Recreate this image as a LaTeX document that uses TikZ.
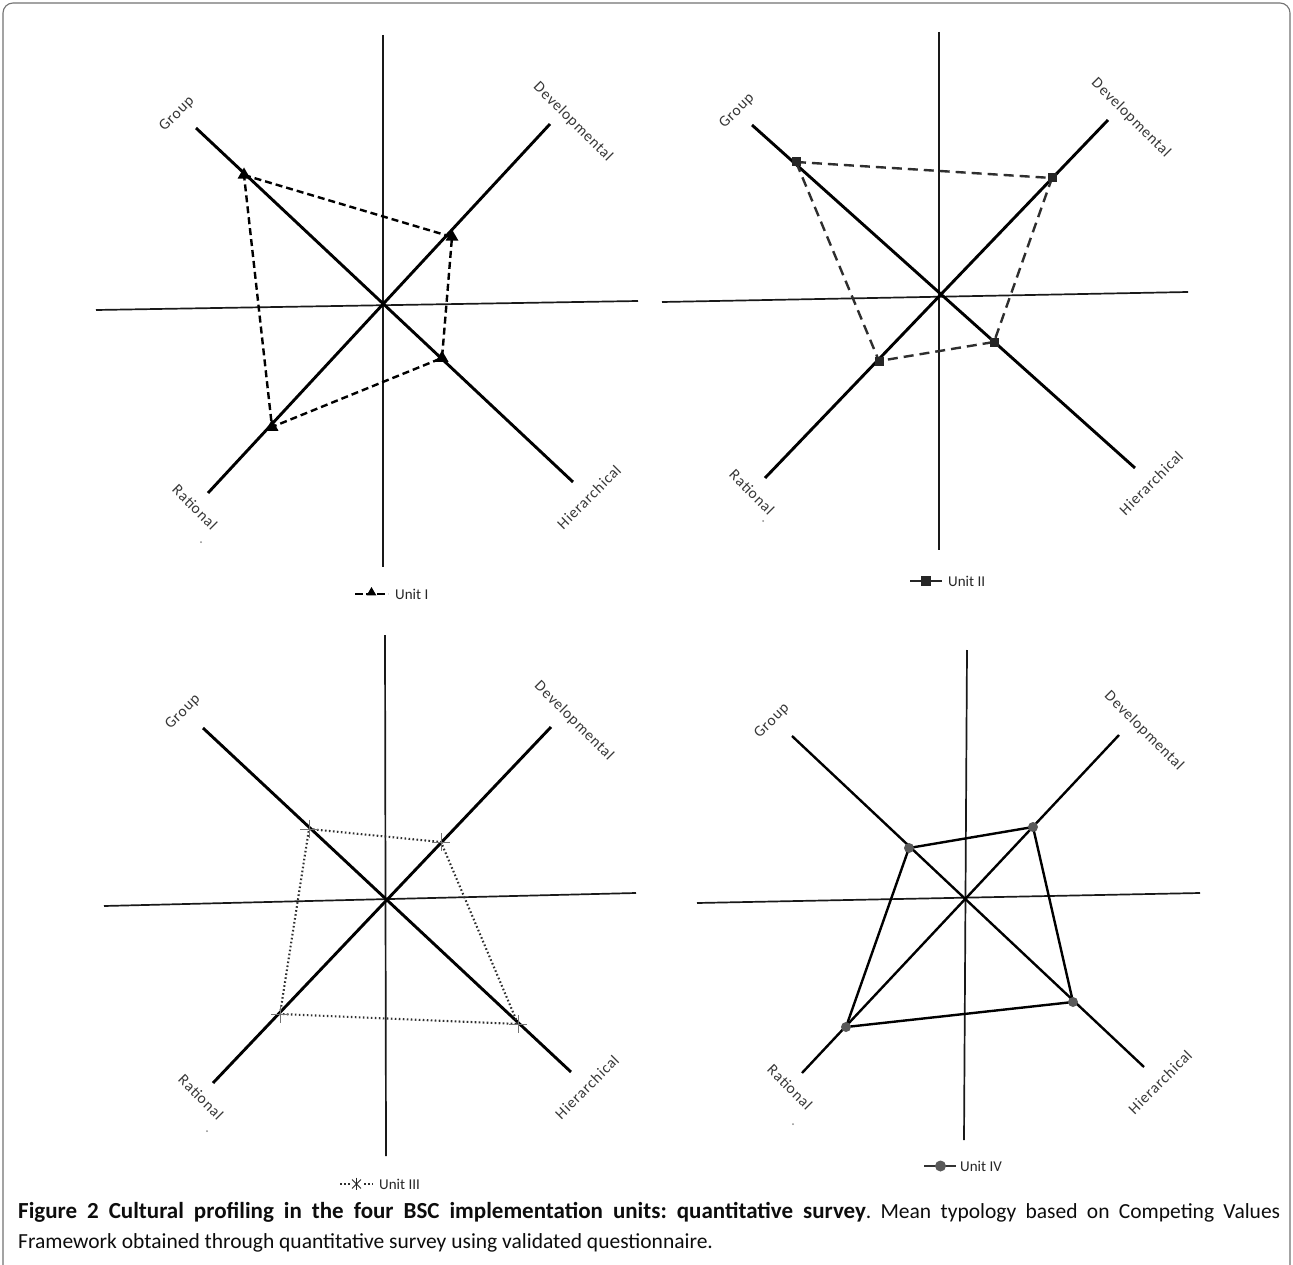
\documentclass[tikz,border=0pt]{standalone}
\usepackage{fontspec}
\setmainfont{Carlito}
\newfontfamily\lblfont[LetterSpace=5]{Carlito}
\usetikzlibrary{shapes.geometric,shapes.misc}
\begin{document}
\frenchspacing
\begin{tikzpicture}[x=1pt,y=-1pt,
  frame/.style={draw=black!55, line width=1.1pt, rounded corners=10pt},
  axisline/.style={draw=black!90, line width=1.7pt},
  diagline/.style={draw=black, line width=2.9pt},
  diagthin/.style={draw=black, line width=2.4pt},
  lbl/.style={font=\lblfont\fontsize{15.5}{17}\selectfont, text=black!78, inner sep=0pt},
  leg/.style={font=\fontsize{15}{17}\selectfont, text=black!85, inner sep=0pt, anchor=west},
  serI/.style={draw=black, line width=2.4pt, dash pattern=on 7pt off 4pt},
  serII/.style={draw=black!82, line width=2.4pt, dash pattern=on 10pt off 6pt},
  serIII/.style={draw=black!82, line width=2.1pt, dash pattern=on 1.6pt off 2.4pt},
  serIV/.style={draw=black, line width=2.4pt},
  tri/.style={regular polygon, regular polygon sides=3, fill=black, inner sep=0pt, minimum size=15pt},
  sqm/.style={rectangle, fill=black!85, inner sep=0pt, minimum size=9pt},
  astm/.style={cross out, draw=black!55, line width=0.7pt, rotate=45, inner sep=0pt, minimum size=12pt},
  cdot/.style={circle, fill=black!65, inner sep=0pt, minimum size=10pt},
  speck/.style={circle, fill=black!45, inner sep=0pt, minimum size=2pt},
]
\useasboundingbox (0,0) rectangle (1293,1265);
\fill[white] (0,0) rectangle (1293,1265);
\draw[frame] (3,1270) -- (3,3) -- (1290,3) -- (1290,1270);

%% ---------------- Panel I ----------------
\coordinate (C1) at (384,305);
\coordinate (V1t) at (383,35);   \coordinate (V1b) at (383,567);
\coordinate (H1l) at (96,310);   \coordinate (H1r) at (638,301);
\coordinate (G1e) at (196,128);  \coordinate (Hi1e) at (573,482);
\coordinate (D1e) at (550,124);  \coordinate (R1e) at (208,493);
\draw[axisline] (V1t) -- (V1b);
\draw[axisline] (H1l) -- (H1r);
\draw[diagline] (G1e) -- (Hi1e);
\draw[diagline] (D1e) -- (R1e);
\node[lbl, rotate=45]  (lG1) at (177,114) {Group};
\node[lbl, rotate=-45] (lD1) at (573,122) {Developmental};
\node[lbl, rotate=-45] (lR1) at (195,507) {Rational};
\node[lbl, rotate=45]  (lH1) at (589,497) {Hierarchical};
\node[speck] (s1) at (201,542) {};
\coordinate (pG1) at (244,175);
\coordinate (pD1) at (452,237);
\coordinate (pH1) at (442,358);
\coordinate (pR1) at (272,427);
\draw[serI] (pG1) -- (pD1) -- (pH1) -- (pR1) -- cycle;
\foreach \p in {pG1,pD1,pH1,pR1} \node[tri] at (\p) {};
\coordinate (L1a) at (355,594); \coordinate (L1b) at (388,594);
\draw[serI, dash pattern=on 8pt off 3pt] (L1a) -- (L1b);
\node[tri, minimum size=11pt] (m1) at (371.5,592.5) {};
\node[leg] (t1) at (395,594) {Unit I};

%% ---------------- Panel II ----------------
\coordinate (C2) at (940,297);
\coordinate (V2t) at (939,32);   \coordinate (V2b) at (939,550);
\coordinate (H2l) at (662,302);  \coordinate (H2r) at (1188,292);
\coordinate (G2e) at (752,125);  \coordinate (Hi2e) at (1135,468);
\coordinate (D2e) at (1108,120); \coordinate (R2e) at (765,478);
\draw[axisline] (V2t) -- (V2b);
\draw[axisline] (H2l) -- (H2r);
\draw[diagline] (G2e) -- (Hi2e);
\draw[diagline] (D2e) -- (R2e);
\node[lbl, rotate=45]  (lG2) at (737,111) {Group};
\node[lbl, rotate=-45] (lD2) at (1131,118) {Developmental};
\node[lbl, rotate=-45] (lR2) at (752,492) {Rational};
\node[lbl, rotate=45]  (lH2) at (1151,483) {Hierarchical};
\node[speck] (s2) at (763,521) {};
\coordinate (pG2) at (796,162);
\coordinate (pD2) at (1052,178);
\coordinate (pH2) at (994,342);
\coordinate (pR2) at (879,361);
\draw[serII] (pG2) -- (pD2) -- (pH2) -- (pR2) -- cycle;
\foreach \p in {pG2,pD2,pH2,pR2} \node[sqm] at (\p) {};
\coordinate (L2a) at (910,581); \coordinate (L2b) at (942,581);
\draw[draw=black!85, line width=2.6pt] (L2a) -- (L2b);
\node[sqm, minimum size=10pt] (m2) at (926,581) {};
\node[leg] (t2) at (948,581) {Unit II};

%% ---------------- Panel III ----------------
\coordinate (C3) at (386,900);
\coordinate (V3t) at (385,635);  \coordinate (V3b) at (386,1156);
\coordinate (H3l) at (104,906);  \coordinate (H3r) at (636,893);
\coordinate (G3e) at (203,728);  \coordinate (Hi3e) at (571,1072);
\coordinate (D3e) at (551,727);  \coordinate (R3e) at (213,1083);
\draw[axisline] (V3t) -- (V3b);
\draw[axisline] (H3l) -- (H3r);
\draw[diagline] (G3e) -- (Hi3e);
\draw[diagline] (D3e) -- (R3e);
\node[lbl, rotate=45]  (lG3) at (183,712) {Group};
\node[lbl, rotate=-45] (lD3) at (574,721) {Developmental};
\node[lbl, rotate=-45] (lR3) at (201,1097) {Rational};
\node[lbl, rotate=45]  (lH3) at (587,1087) {Hierarchical};
\node[speck] (s3) at (207,1131) {};
\coordinate (pG3) at (309,829);
\coordinate (pD3) at (441,842);
\coordinate (pH3) at (518,1024);
\coordinate (pR3) at (280,1014);
\draw[serIII] (pG3) -- (pD3) -- (pH3) -- (pR3) -- cycle;
\foreach \p in {pG3,pD3,pH3,pR3} \node[astm] at (\p) {};
\coordinate (L3a) at (340,1184); \coordinate (L3b) at (373,1184);
\draw[serIII, line width=2.4pt] (L3a) -- (L3b);
\node[fill=white, inner sep=0pt, minimum size=10pt] (m3bg) at (356.5,1184) {};
\node[cross out, draw=black!85, line width=0.9pt, inner sep=0pt, minimum size=8pt] (m3) at (356.5,1184) {};
\draw[draw=black!85, line width=0.9pt] (m3.north) ++(0,-2) -- ++(0,12);
\node[leg] (t3) at (379,1184) {Unit III};

%% ---------------- Panel IV ----------------
\coordinate (C4) at (965,898);
\coordinate (V4t) at (967,650);  \coordinate (V4b) at (964,1140);
\coordinate (H4l) at (697,903);  \coordinate (H4r) at (1200,893);
\coordinate (G4e) at (792,736);  \coordinate (Hi4e) at (1144,1067);
\coordinate (D4e) at (1119,735); \coordinate (R4e) at (802,1073);
\draw[axisline] (V4t) -- (V4b);
\draw[axisline] (H4l) -- (H4r);
\draw[diagthin] (G4e) -- (Hi4e);
\draw[diagthin] (D4e) -- (R4e);
\node[lbl, rotate=45]  (lG4) at (772,721) {Group};
\node[lbl, rotate=-45] (lD4) at (1144,731) {Developmental};
\node[lbl, rotate=-45] (lR4) at (790,1087) {Rational};
\node[lbl, rotate=45]  (lH4) at (1160,1082) {Hierarchical};
\node[speck] (s4) at (793,1124) {};
\coordinate (pG4) at (909,848);
\coordinate (pD4) at (1033,827);
\coordinate (pH4) at (1073,1002);
\coordinate (pR4) at (846,1027);
\draw[serIV] (pG4) -- (pD4) -- (pH4) -- (pR4) -- cycle;
\foreach \p in {pG4,pD4,pH4,pR4} \node[cdot] at (\p) {};
\coordinate (L4a) at (924,1166); \coordinate (L4b) at (956,1166);
\draw[draw=black!80, line width=2.2pt] (L4a) -- (L4b);
\node[cdot, minimum size=11pt] (m4) at (940.5,1166) {};
\node[leg] (t4) at (960,1166) {Unit IV};

%% ---------------- Caption ----------------
\node[anchor=north west, inner sep=0pt, text width=1262pt, align=justify,
      font=\fontsize{21.5}{30}\selectfont, text=black!95] (cap) at (18,1202)
  {{\fontsize{23}{30}\selectfont\bfseries Figure 2 Cultural profiling in the four BSC implementation units: quantitative survey}. Mean typology based on Competing Values\linebreak
   Framework obtained through quantitative survey using validated questionnaire.};
\end{tikzpicture}
\end{document}
